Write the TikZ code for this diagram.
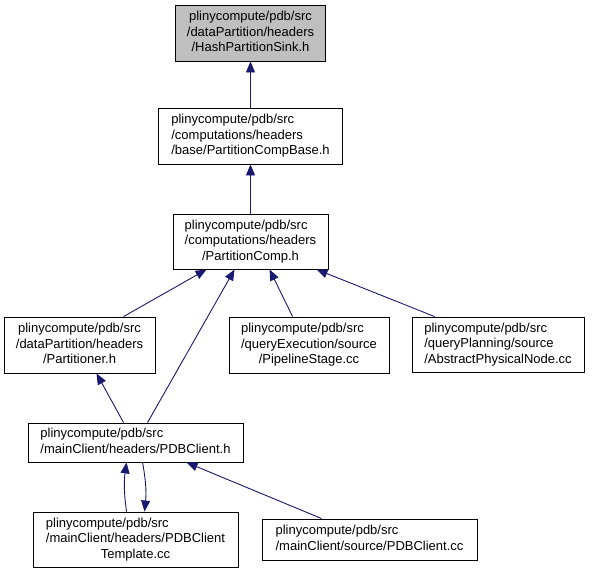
\documentclass[tikz,border=0pt]{standalone}
\usepackage{fontspec}
\setmainfont{Liberation Sans}
\usetikzlibrary{arrows.meta,calc}
\definecolor{edgeblue}{RGB}{25,25,112}
\definecolor{focusgray}{RGB}{191,191,191}
\newcommand{\dlabel}[3]{\begin{tabular}{@{}l@{}}#1\\#2\\\multicolumn{1}{@{}c@{}}{#3}\end{tabular}}
\newcommand{\dlabeltwo}[2]{\begin{tabular}{@{}l@{}}#1\\#2\end{tabular}}
\newcommand{\dlabelc}[3]{\begin{tabular}{@{}c@{}}#1\\#2\\#3\end{tabular}}
\begin{document}
\begin{tikzpicture}[x=1pt,y=-1pt,
  box/.style={draw=black, line width=0.9pt, fill=white, inner sep=0pt,
    font=\fontsize{13}{15.5}\selectfont},
  focus/.style={box, fill=focusgray},
  edge/.style={draw=edgeblue, line width=0.9pt,
    arrows={-Triangle[length=11pt,width=9pt]}}]
\useasboundingbox (0,0) rectangle (592,573);
\node[focus, minimum width=150pt, minimum height=56pt] (hps) at (250.5,33)
  {\dlabelc{plinycompute/pdb/src}{/dataPartition/headers}{/HashPartitionSink.h}};
\node[box, minimum width=184pt, minimum height=56pt] (pcb) at (250.5,136)
  {\dlabel{plinycompute/pdb/src}{/computations/headers}{/base/PartitionCompBase.h}};
\node[box, minimum width=155pt, minimum height=55pt] (pc) at (250.5,241.5)
  {\dlabel{plinycompute/pdb/src}{/computations/headers}{/PartitionComp.h}};
\node[box, minimum width=151pt, minimum height=56pt] (part) at (79.5,345)
  {\dlabelc{plinycompute/pdb/src}{/dataPartition/headers}{/Partitioner.h}};
\node[box, minimum width=160pt, minimum height=56pt] (pipe) at (309,345)
  {\dlabel{plinycompute/pdb/src}{/queryExecution/source}{/PipelineStage.cc}};
\node[box, minimum width=172pt, minimum height=55pt] (abs) at (498,344.5)
  {\dlabel{plinycompute/pdb/src}{/queryPlanning/source}{/AbstractPhysicalNode.cc}};
\node[box, minimum width=215pt, minimum height=39pt] (pdbh) at (135.5,442.5)
  {\dlabeltwo{plinycompute/pdb/src}{/mainClient/headers/PDBClient.h}};
\node[box, minimum width=205pt, minimum height=55pt] (tmpl) at (135.5,539.5)
  {\dlabel{plinycompute/pdb/src}{/mainClient/headers/PDBClient}{Template.cc}};
\node[box, minimum width=215pt, minimum height=41pt] (pdbcc) at (369.5,539.5)
  {\dlabeltwo{plinycompute/pdb/src}{/mainClient/source/PDBClient.cc}};
\draw[edge] (pcb.north) -- (hps.south);
\draw[edge] (pc.north) -- (pcb.south);
\draw[edge] ($(part.north west)+(120,0)$) -- ($(pc.south west)+(34,0)$);
\draw[edge] ($(pdbh.north west)+(120,0)$) -- ($(pc.south west)+(62,0)$);
\draw[edge] ($(pipe.north west)+(64,0)$) -- ($(pc.south west)+(97,0)$);
\draw[edge] ($(abs.north west)+(23,0)$) -- ($(pc.south west)+(144,0)$);
\draw[edge] ($(pdbh.north west)+(96,0)$) -- ($(part.south west)+(93,0)$);
\draw[edge] ($(tmpl.north west)+(94,0)$) to[bend left=8] ($(pdbh.south west)+(99,0)$);
\draw[edge] ($(pdbh.south west)+(115,0)$) to[bend left=8] ($(tmpl.north west)+(112,0)$);
\draw[edge] ($(pdbcc.north west)+(60,0)$) -- ($(pdbh.south west)+(159,0)$);
\end{tikzpicture}
\end{document}
